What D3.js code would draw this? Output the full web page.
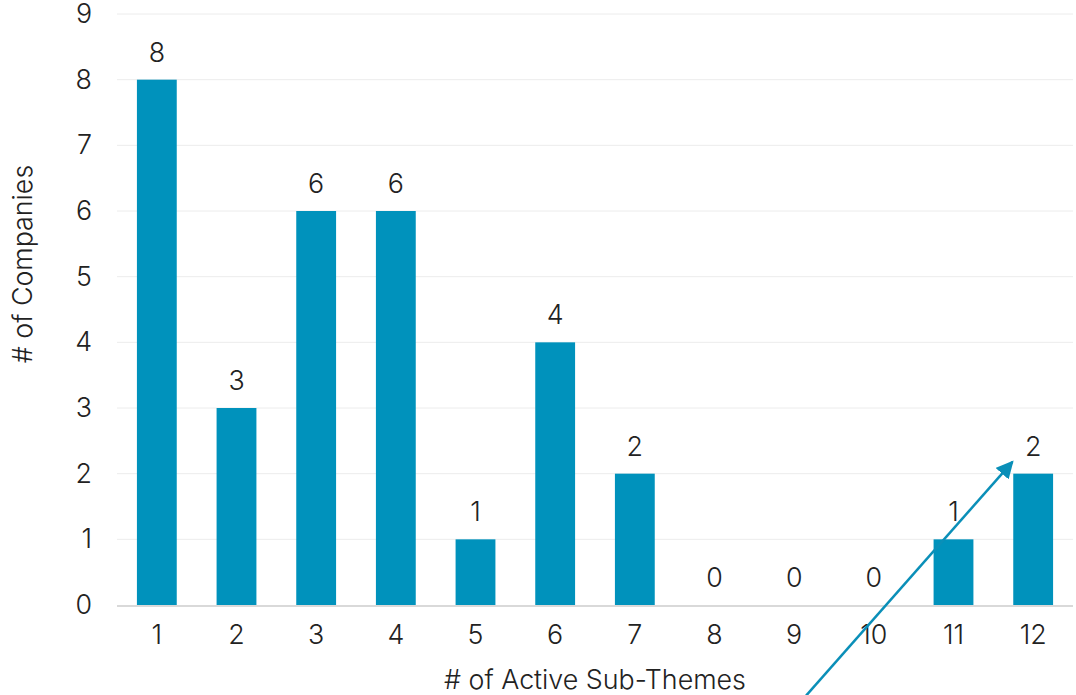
<!DOCTYPE html>
<html>
<head>
<meta charset="utf-8">
<script src="https://cdn.jsdelivr.net/npm/d3@7"></script>
<style>
  html, body { margin: 0; padding: 0; background: #fff; }
  svg { display: block; font-family: Inter, "Noto Sans", sans-serif; }
</style>
</head>
<body>
<svg id="chart" width="1076" height="695"></svg>
<script>
// Number of active sub-themes per company
const categories = ["1", "2", "3", "4", "5", "6", "7", "8", "9", "10", "11", "12"];
const companies = [8, 3, 6, 6, 1, 4, 2, 0, 0, 0, 1, 2];
const yTicks = [0, 1, 2, 3, 4, 5, 6, 7, 8, 9];

// Trend arrow, in category-position / value units
const arrowFrom = { pos: 9.15, value: -1.38 };
const arrowTo = { pos: 11.74, value: 2.18 };

const width = 1076, height = 695;
const margin = { top: 14, right: 3, bottom: 90, left: 117 };
const svg = d3.select("#chart");
const fontSize = 26.8;

const x = d3.scaleBand()
  .domain(categories)
  .range([margin.left, width - margin.right])
  .paddingInner(0.5)
  .paddingOuter(0.25);

const y = d3.scaleLinear()
  .domain([0, 9])
  .range([height - margin.bottom, margin.top]);

const textColor = "#222";
const barColor = "#0092BC";

// gridlines
svg.append("g")
  .selectAll("line")
  .data(yTicks.filter(d => d > 0))
  .join("line")
  .attr("x1", margin.left)
  .attr("x2", width - margin.right)
  .attr("y1", d => y(d))
  .attr("y2", d => y(d))
  .attr("stroke", "#ececec")
  .attr("stroke-width", 1);

// y axis labels
const yAxis = svg.append("g")
  .attr("transform", `translate(${margin.left},0)`)
  .call(d3.axisLeft(y).tickValues(yTicks).tickSize(0).tickPadding(25));
yAxis.select(".domain").remove();
yAxis.selectAll("text")
  .attr("font-size", fontSize)
  .attr("font-weight", 300)
  .attr("fill", textColor)
  .attr("font-family", "Inter, sans-serif");

// bars
svg.append("g")
  .selectAll("rect")
  .data(categories.map((c, i) => ({ c, v: companies[i] })))
  .join("rect")
  .attr("x", d => x(d.c))
  .attr("width", x.bandwidth())
  .attr("y", d => y(d.v))
  .attr("height", d => y(0) - y(d.v))
  .attr("fill", barColor);

// baseline
svg.append("line")
  .attr("x1", margin.left)
  .attr("x2", width - margin.right)
  .attr("y1", y(0) + 1)
  .attr("y2", y(0) + 1)
  .attr("stroke", "#d9d9d9")
  .attr("stroke-width", 2);

// x axis labels
const xAxis = svg.append("g")
  .attr("transform", `translate(0,${y(0)})`)
  .call(d3.axisBottom(x).tickSize(0).tickPadding(20));
xAxis.select(".domain").remove();
xAxis.selectAll("text")
  .attr("font-size", fontSize)
  .attr("font-weight", 300)
  .attr("fill", textColor)
  .attr("font-family", "Inter, sans-serif");

// value labels
svg.append("g")
  .selectAll("text")
  .data(categories.map((c, i) => ({ c, v: companies[i] })))
  .join("text")
  .attr("x", d => x(d.c) + x.bandwidth() / 2)
  .attr("y", d => y(d.v) - 18)
  .attr("text-anchor", "middle")
  .attr("font-size", fontSize)
  .attr("font-weight", 300)
  .attr("fill", textColor)
  .text(d => d.v);

// axis titles
svg.append("text")
  .attr("x", (margin.left + width - margin.right) / 2)
  .attr("y", 689)
  .attr("text-anchor", "middle")
  .attr("font-size", fontSize)
  .attr("font-weight", 300)
  .attr("fill", textColor)
  .text("# of Active Sub-Themes");

svg.append("text")
  .attr("transform", "translate(32,264) rotate(-90)")
  .attr("text-anchor", "middle")
  .attr("font-size", fontSize)
  .attr("font-weight", 300)
  .attr("fill", textColor)
  .text("# of Companies");

// trend arrow
const posX = p => x(categories[0]) + x.bandwidth() / 2 + (p - 1) * x.step();
svg.append("defs").append("marker")
  .attr("id", "arrowhead")
  .attr("viewBox", "0 0 10 10")
  .attr("refX", 9)
  .attr("refY", 5)
  .attr("markerWidth", 7)
  .attr("markerHeight", 7)
  .attr("markerUnits", "strokeWidth")
  .attr("orient", "auto")
  .append("path")
  .attr("d", "M0,0 L10,5 L0,10 z")
  .attr("fill", "#0A8FB8");

svg.append("line")
  .attr("x1", posX(arrowFrom.pos))
  .attr("y1", y(arrowFrom.value))
  .attr("x2", posX(arrowTo.pos))
  .attr("y2", y(arrowTo.value))
  .attr("stroke", "#0A8FB8")
  .attr("stroke-width", 2.5)
  .attr("marker-end", "url(#arrowhead)");
</script>
</body>
</html>
